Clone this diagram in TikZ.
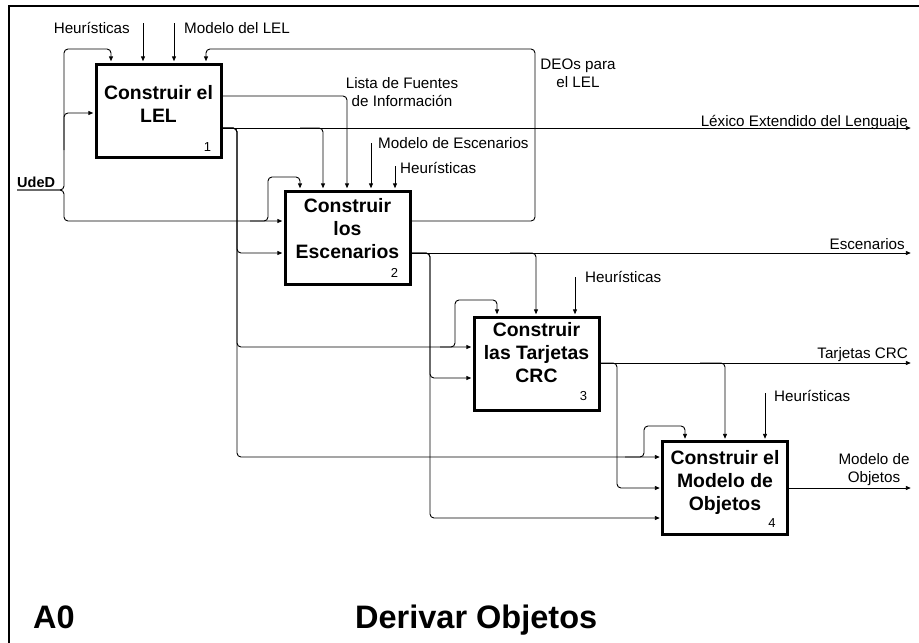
\documentclass[tikz,border=0pt]{standalone}
\usepackage{fontspec}
\setmainfont{Liberation Sans}
\usetikzlibrary{arrows.meta}

\begin{document}
\begin{tikzpicture}[x=1pt,y=-1pt,
  flow/.style={line width=0.9pt, rounded corners=4pt},
  arr/.style={flow, -{Triangle[length=5pt,width=4pt]}, shorten >=1.2pt},
  act/.style={draw, line width=3pt, minimum width=125pt, minimum height=93pt, inner sep=0pt},
  acttext/.style={font=\fontsize{19.4}{23}\selectfont\bfseries, align=center, inner sep=0pt},
  num/.style={font=\fontsize{13}{15}\selectfont, inner sep=0pt},
  lbl/.style={font=\fontsize{15.2}{18}\selectfont, inner sep=0pt},
  ttl/.style={font=\fontsize{32.5}{38}\selectfont\bfseries, inner sep=0pt, anchor=base west}
]
\useasboundingbox (0,0) rectangle (919,643);

% diagram frame
\draw[line width=2pt] (9,646) -- (9,6) -- (922,6);

% activity boxes
\node[act] (b1) at (158.5,110.5) {};
\node[act] (b2) at (347.5,237.5) {};
\node[act] (b3) at (536.5,363.5) {};
\node[act] (b4) at (725,488) {};

\node[acttext] (b1t) at (158.5,103.5) {Construir el\\LEL};
\node[acttext] (b2t) at (347.5,229) {Construir\\los\\Escenarios};
\node[acttext] (b3t) at (536.5,352.5) {Construir\\las Tarjetas\\CRC};
\node[acttext] (b4t) at (725,482) {Construir el\\Modelo de\\Objetos};

\node[num] (b1n) at ([shift={(-15,-11)}]b1.south east) {1};
\node[num] (b2n) at ([shift={(-17,-13)}]b2.south east) {2};
\node[num] (b3n) at ([shift={(-17,-15)}]b3.south east) {3};
\node[num] (b4n) at ([shift={(-17,-13)}]b4.south east) {4};

% free ends of the external arrows
\coordinate (udedin) at (17,190);
\coordinate (h1) at (143,23);
\coordinate (mlel) at (174,23);
\coordinate (mesc) at (371,143);
\coordinate (h2) at (395,166);
\coordinate (h3) at (575,277);
\coordinate (h4) at (765,393);
\coordinate (lelout) at (912,128);
\coordinate (escout) at (912,253);
\coordinate (crcout) at (912,363);
\coordinate (objout) at (912,488);

% UdeD mechanism
\node[lbl, font=\fontsize{14.5}{18}\selectfont\bfseries, anchor=base west] (uded) at (17,187) {UdeD};
\draw[arr] (udedin) -- (64,190) -- (64,49) -- (111,49) -- (111,0 |- b1.north);
\draw[arr] (udedin) -- (64,190) -- (64,221) -- (b2.west |- 0,221);
\draw[arr] (64,150) -- (64,113) -- (b1.west |- 0,113);
\draw[arr] (250,221) -- (268,221) -- (268,177) -- (300,177) -- (300,0 |- b2.north);

% controls of box 1
\draw[arr] (h1) -- (h1 |- b1.north);
\draw[arr] (mlel) -- (mlel |- b1.north);
\node[lbl, anchor=base east] (h1t) at (130,33) {Heurísticas};
\node[lbl, anchor=base west] (mlelt) at (184,33) {Modelo del LEL};

% list of sources
\draw[arr] (b1.east |- 0,96) -- (347,96) -- (347,0 |- b2.north);
\node[lbl, align=center] (listat) at (402,92) {Lista de Fuentes\\de Información};

% extended lexicon
\draw[arr] (b1.east |- 0,128) -- (lelout);
\draw[arr] (b1.east |- 0,128) -- (237,128) -- (237,253) -- (b2.west |- 0,253);
\draw[arr] (b1.east |- 0,128) -- (237,128) -- (237,347) -- (b3.west |- 0,347);
\draw[arr] (b1.east |- 0,128) -- (237,128) -- (237,457) -- (b4.west |- 0,457);
\draw[arr] (300,128) -- (323,128) -- (323,0 |- b2.north);
\draw[arr] (440,347) -- (455,347) -- (455,300) -- (497,300) -- (497,0 |- b3.north);
\draw[arr] (625,457) -- (644,457) -- (644,426) -- (685,426) -- (685,0 |- b4.north);
\node[lbl, anchor=base east] (lelt) at (908,126) {Léxico Extendido del Lenguaje};

% controls of box 2
\draw[arr] (mesc) -- (mesc |- b2.north);
\draw[arr] (h2) -- (h2 |- b2.north);
\node[lbl, anchor=base west] (mesct) at (378,148) {Modelo de Escenarios};
\node[lbl, anchor=base west] (h2t) at (400,173) {Heurísticas};

% DEOs feedback
\draw[arr] (b2.east |- 0,221) -- (535,221) -- (535,49) -- (206,49) -- (206,0 |- b1.north);
\node[lbl, align=center] (deost) at (578,73) {DEOs para\\el LEL};

% scenarios
\draw[arr] (b2.east |- 0,253) -- (escout);
\draw[arr] (b2.east |- 0,253) -- (430,253) -- (430,378) -- (b3.west |- 0,378);
\draw[arr] (b2.east |- 0,253) -- (430,253) -- (430,518) -- (b4.west |- 0,518);
\draw[arr] (510,253) -- (536,253) -- (536,0 |- b3.north);
\node[lbl, anchor=base east] (esct) at (905,249) {Escenarios};

% controls of box 3
\draw[arr] (h3) -- (h3 |- b3.north);
\node[lbl, anchor=base west] (h3t) at (585,282) {Heurísticas};

% CRC cards
\draw[arr] (b3.east |- 0,363) -- (crcout);
\draw[arr] (b3.east |- 0,363) -- (617,363) -- (617,488) -- (b4.west |- 0,488);
\draw[arr] (700,363) -- (725,363) -- (725,0 |- b4.north);
\node[lbl, anchor=base east] (crct) at (908,358) {Tarjetas CRC};

% controls of box 4
\draw[arr] (h4) -- (h4 |- b4.north);
\node[lbl, anchor=base west] (h4t) at (774,401) {Heurísticas};

% object model
\draw[arr] (b4.east |- 0,488) -- (objout);
\node[lbl, align=center] (objt) at (874,470) {Modelo de\\Objetos};

% diagram title
\node[ttl] (node) at (33,628) {A0};
\node[ttl] (title) at (355,628) {Derivar Objetos};
\end{tikzpicture}
\end{document}
